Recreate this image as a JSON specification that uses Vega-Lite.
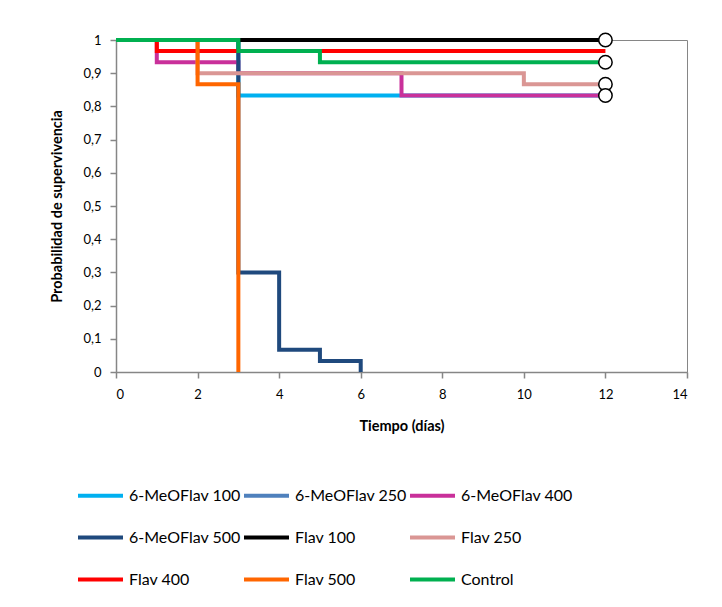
{
  "$schema": "https://vega.github.io/schema/vega-lite/v6.json",
  "width": 571,
  "height": 332,
  "autosize": {"type": "none"},
  "padding": {"left": 116, "top": 40, "right": 35, "bottom": 235},
  "background": "white",
  "config": {
    "font": "Lato",
    "view": {"stroke": "#868686", "strokeWidth": 1},
    "axis": {
      "grid": false,
      "domainColor": "#868686",
      "domainWidth": 1.5,
      "tickColor": "#868686",
      "tickWidth": 1.5,
      "tickSize": 6,
      "labelFontSize": 13,
      "labelColor": "black",
      "labelOverlap": false,
      "titleFontSize": 14.5,
      "titleFontWeight": "bold",
      "titleColor": "black"
    }
  },
  "datasets": {
    "km": [
      {"series": "6-MeOFlav 100", "t": 0, "s": 1},
      {"series": "6-MeOFlav 100", "t": 3, "s": 0.833},
      {"series": "6-MeOFlav 100", "t": 12, "s": 0.833},
      {"series": "6-MeOFlav 250", "t": 0, "s": 1},
      {"series": "6-MeOFlav 250", "t": 12, "s": 1},
      {"series": "6-MeOFlav 400", "t": 0, "s": 1},
      {"series": "6-MeOFlav 400", "t": 1, "s": 0.933},
      {"series": "6-MeOFlav 400", "t": 3, "s": 0.9},
      {"series": "6-MeOFlav 400", "t": 7, "s": 0.833},
      {"series": "6-MeOFlav 400", "t": 12, "s": 0.833},
      {"series": "6-MeOFlav 500", "t": 0, "s": 1},
      {"series": "6-MeOFlav 500", "t": 3, "s": 0.3},
      {"series": "6-MeOFlav 500", "t": 4, "s": 0.067},
      {"series": "6-MeOFlav 500", "t": 5, "s": 0.033},
      {"series": "6-MeOFlav 500", "t": 6, "s": 0},
      {"series": "Flav 100", "t": 0, "s": 1},
      {"series": "Flav 100", "t": 12, "s": 1},
      {"series": "Flav 250", "t": 0, "s": 1},
      {"series": "Flav 250", "t": 2, "s": 0.9},
      {"series": "Flav 250", "t": 10, "s": 0.867},
      {"series": "Flav 250", "t": 12, "s": 0.867},
      {"series": "Flav 400", "t": 0, "s": 1},
      {"series": "Flav 400", "t": 1, "s": 0.967},
      {"series": "Flav 400", "t": 12, "s": 0.967},
      {"series": "Flav 500", "t": 0, "s": 1},
      {"series": "Flav 500", "t": 2, "s": 0.867},
      {"series": "Flav 500", "t": 3, "s": 0},
      {"series": "Control", "t": 0, "s": 1},
      {"series": "Control", "t": 3, "s": 0.967},
      {"series": "Control", "t": 5, "s": 0.933},
      {"series": "Control", "t": 12, "s": 0.933}
    ],
    "censor": [
      {"t": 12, "s": 1},
      {"t": 12, "s": 0.933},
      {"t": 12, "s": 0.867},
      {"t": 12, "s": 0.833}
    ]
  },
  "encoding": {
    "x": {
      "field": "t", "type": "quantitative",
      "scale": {"domain": [0, 14], "nice": false},
      "axis": {"values": [0, 2, 4, 6, 8, 10, 12, 14], "title": "Tiempo (días)", "labelPadding": 10, "titleY": 54, "titleBaseline": "middle"}
    },
    "y": {
      "field": "s", "type": "quantitative",
      "scale": {"domain": [0, 1], "nice": false},
      "axis": {
        "values": [0, 0.1, 0.2, 0.3, 0.4, 0.5, 0.6, 0.7, 0.8, 0.9, 1],
        "labelExpr": "replace(format(datum.value, '.1~f'), '.', ',')",
        "labelPadding": 9,
        "title": "Probabilidad de supervivencia",
        "titleX": -59, "titleY": 166, "titleAngle": -90, "titleAlign": "center", "titleBaseline": "middle"
      }
    }
  },
  "layer": [
    {
      "data": {"name": "km"},
      "mark": {"type": "line", "interpolate": "step-after", "strokeWidth": 4},
      "encoding": {
        "color": {
          "field": "series", "type": "nominal",
          "scale": {
            "domain": ["6-MeOFlav 100", "6-MeOFlav 250", "6-MeOFlav 400", "6-MeOFlav 500", "Flav 100", "Flav 250", "Flav 400", "Flav 500", "Control"],
            "range": ["#00B0F0", "#4F81BD", "#C9309A", "#1F497D", "#000000", "#DA9694", "#FF0000", "#FF6600", "#00B050"]
          },
          "legend": {
            "title": null,
            "orient": "none",
            "legendX": -40,
            "legendY": 431,
            "direction": "horizontal",
            "columns": 3,
            "symbolType": "stroke",
            "symbolSize": 2025,
            "symbolStrokeWidth": 4,
            "labelFontSize": 16,
            "labelOffset": 4,
            "columnPadding": -5,
            "rowPadding": 9,
            "labelLimit": 200,
            "padding": 0
          }
        }
      }
    },
    {
      "data": {"name": "censor"},
      "mark": {"type": "point", "shape": "circle", "filled": true, "fill": "white", "stroke": "black", "strokeWidth": 1.5, "size": 180, "opacity": 1}
    }
  ]
}
